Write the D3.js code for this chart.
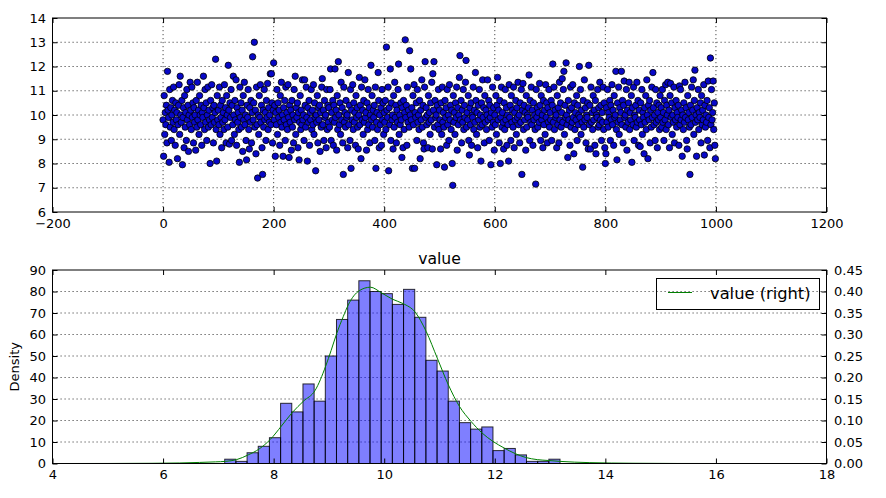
<!DOCTYPE html>
<html><head><meta charset="utf-8">
<script src="https://cdn.jsdelivr.net/npm/d3@7/dist/d3.min.js"></script>
<style>
body{margin:0;background:#fff}
svg{display:block}
text{font-family:"DejaVu Sans",sans-serif;fill:#000}
</style>
</head><body>
<svg id="chart" width="886" height="498"></svg>
<script>
// ---- scatter data: value by index (0..999), read in blocks of 100 ----
const seg0=[9.8,8.3,10.8,9.2,10.1,9.6,10.4,8.85,11.8,10.2,9.9,8.05,11.05,9.5,10.3,8.95,10.0,10.6,9.7,11.15,9.4,10.2,8.75,10.5,9.8,10.1,8.2,9.6,10.4,11.25,9.2,11.6,10.0,9.7,10.6,7.95,9.9,10.3,8.65,10.8,9.5,10.1,8.95,11.05,9.8,10.4,8.5,10.0,9.6,11.35,10.2,9.4,11.15,9.9,10.5,8.85,10.3,9.7,10.0,8.55,10.6,9.5,11.35,9.8,10.2,9.2,10.8,10.0,9.6,10.4,8.75,10.1,9.9,11.6,10.3,9.4,11.05,9.7,10.5,8.95,10.0,11.15,9.5,10.2,9.8,8.0,10.6,9.6,11.25,9.9,10.3,8.85,10.4,9.7,10.1,12.3,9.4,8.1,10.8,9.8];
const seg1=[10.2,9.6,11.15,9.2,10.4,9.9,8.65,10.6,9.7,10.1,9.4,11.25,9.8,10.3,8.85,10.8,10.0,9.5,12.05,10.2,8.8,10.5,9.9,11.05,8.95,10.4,9.6,11.6,10.0,9.2,10.6,9.8,11.45,8.75,10.3,9.7,10.1,9.4,8.05,11.15,9.9,10.5,9.5,10.2,8.5,10.8,9.8,11.35,9.6,10.0,8.95,8.15,10.4,9.9,11.05,9.4,8.6,10.3,9.7,10.6,8.85,10.1,12.4,9.8,10.5,13.0,9.5,10.2,8.4,11.15,9.6,7.4,10.0,9.2,10.8,9.9,11.25,9.7,10.4,8.65,7.55,10.2,9.5,11.05,9.8,10.1,8.95,10.6,9.9,11.3,9.4,10.3,9.7,10.0,11.7,9.6,11.7,10.5,8.85,10.2];
const seg2=[12.15,9.8,10.4,8.3,10.1,9.6,11.05,9.2,10.5,9.9,10.2,8.75,10.8,9.7,11.35,9.5,10.0,8.3,10.3,9.8,10.6,8.95,11.15,9.6,10.1,9.4,11.25,9.9,8.25,10.4,9.7,10.2,8.55,10.6,9.5,10.0,8.85,11.05,9.8,11.6,9.2,10.3,9.9,10.5,8.65,10.1,8.15,9.7,10.8,9.4,10.2,9.6,11.45,9.8,10.0,8.95,11.45,10.4,9.5,11.15,9.9,8.1,10.3,9.7,10.6,8.75,10.1,9.8,11.05,9.4,10.2,9.6,11.25,9.2,10.5,9.9,7.7,10.0,9.7,10.8,8.85,10.3,9.8,10.4,8.5,10.1,9.5,11.15,11.5,9.6,10.2,8.95,10.6,9.9,10.0,8.65,11.05,9.4,10.4,9.7];
const seg3=[10.3,9.5,11.05,11.9,8.95,10.1,9.8,10.6,8.75,10.4,9.7,11.9,9.9,10.2,8.55,10.8,9.4,12.2,10.0,9.6,10.5,9.2,11.35,9.8,10.3,8.85,7.55,11.15,9.7,10.1,9.5,10.6,9.9,10.0,8.65,11.75,9.6,10.4,8.95,11.05,7.8,10.2,9.8,11.25,9.4,10.5,9.7,10.1,8.75,10.8,9.9,10.3,9.5,8.6,10.0,11.55,9.6,10.4,8.2,11.15,9.8,10.2,9.2,10.6,9.7,11.45,9.9,10.1,8.55,10.5,9.4,11.05,9.6,10.3,8.85,10.0,12.05,9.8,10.8,9.5,10.2,9.9,10.4,8.95,11.15,7.8,9.7,10.1,9.4,11.75,10.6,8.65,10.0,9.6,10.3,8.75,11.05,9.8,10.5,9.2];
const seg4=[10.1,9.7,10.6,9.4,12.8,10.2,9.9,11.15,7.7,10.3,9.6,11.9,8.95,10.5,9.8,10.0,8.6,10.8,9.5,11.35,9.9,10.4,8.85,10.2,9.7,11.05,12.1,9.2,10.0,9.6,10.5,9.8,8.25,10.3,8.65,10.6,9.4,10.1,13.1,9.9,10.4,8.75,11.15,9.7,10.2,9.5,12.65,10.0,11.9,9.8,10.3,7.8,10.8,9.6,11.25,7.8,10.1,9.9,10.5,8.95,11.05,9.7,10.0,9.4,10.6,8.2,10.2,9.8,11.45,9.5,10.4,8.85,8.6,11.15,12.2,9.9,10.3,9.6,10.0,8.65,10.8,9.7,10.1,9.2,10.5,9.8,11.35,8.6,11.7,10.2,12.2,9.5,10.6,9.9,10.0,7.95,10.4,9.6,11.05,9.4];
const seg5=[10.2,9.8,8.6,10.5,9.2,11.15,9.7,10.1,9.5,7.85,10.6,9.9,10.3,8.75,11.05,9.6,10.0,8.95,11.25,9.8,10.4,9.4,10.2,8.0,7.1,10.8,9.7,10.1,9.2,10.5,9.9,11.15,8.55,10.3,9.6,10.0,11.55,12.45,9.8,10.6,8.85,10.2,9.7,11.05,9.4,10.4,9.9,11.35,12.25,9.5,10.1,9.8,10.8,8.95,8.35,10.3,9.6,10.5,8.75,10.0,9.9,11.15,9.4,10.2,9.7,11.75,10.6,9.2,10.1,8.65,10.4,9.8,11.05,9.5,10.0,8.1,10.5,9.6,11.45,9.9,10.3,8.85,10.8,9.7,10.2,9.4,10.0,11.45,9.8,10.6,8.95,10.4,9.9,7.95,10.1,9.5,11.15,9.7,10.3,8.55];
const seg6=[10.0,9.6,10.8,9.2,10.4,11.55,9.8,10.2,8.85,10.6,8.0,9.9,11.15,9.5,10.1,9.7,8.6,10.5,9.4,11.05,9.8,10.3,8.75,10.0,9.6,8.1,11.25,9.9,10.4,8.95,10.8,9.7,10.2,9.5,11.15,8.65,10.1,9.8,10.6,9.2,10.3,9.9,11.35,9.6,10.0,8.85,10.5,9.7,11.05,7.55,10.2,11.3,9.4,10.4,9.8,10.1,8.55,10.8,9.5,10.0,9.9,10.3,11.65,8.95,10.6,9.7,11.15,9.6,10.2,8.75,10.5,9.8,10.0,9.4,7.15,11.05,9.9,10.3,9.5,10.1,9.7,11.3,10.4,8.95,10.8,9.8,10.0,8.65,10.6,9.6,10.2,9.2,11.25,9.9,10.5,8.85,10.3,9.7,11.05,9.5];
const seg7=[10.1,9.8,10.6,8.95,10.4,12.1,9.7,11.15,9.4,10.2,9.9,10.0,8.65,10.8,9.6,10.3,8.85,11.35,9.8,10.5,9.5,10.1,11.5,9.7,11.05,11.8,9.2,10.4,9.9,12.15,10.0,9.6,8.25,10.6,9.8,10.2,8.75,11.15,9.5,10.3,9.7,11.25,9.9,8.4,10.5,9.4,10.1,9.8,10.8,8.95,10.4,9.6,10.0,12.0,9.9,11.05,9.2,10.2,9.7,7.85,10.6,9.5,11.45,9.8,10.3,8.85,10.0,9.9,10.5,8.6,12.05,9.6,10.4,8.6,11.15,9.7,10.1,9.4,10.8,9.8,10.2,8.75,10.6,8.4,10.0,9.9,11.05,9.5,10.3,9.6,11.35,9.8,10.4,8.95,10.1,9.7,11.15,9.4,10.5,8.65];
const seg8=[8.0,8.4,10.3,9.7,11.05,9.5,10.1,9.9,10.6,8.95,10.4,9.8,11.25,9.6,10.2,8.75,10.8,9.9,10.0,11.8,9.4,8.15,10.5,9.7,11.15,9.2,10.3,9.8,10.1,11.8,9.6,10.6,8.85,10.4,11.4,9.9,10.0,9.5,11.05,8.55,10.2,9.7,10.5,11.35,9.4,10.1,9.8,10.8,8.05,10.3,9.6,11.15,8.95,10.0,9.9,10.4,9.5,11.35,9.7,10.6,8.75,10.2,9.8,8.7,10.5,9.6,11.05,9.2,10.1,9.9,8.4,10.3,9.7,10.8,9.4,11.45,10.0,8.2,10.4,9.8,10.6,8.85,10.2,9.5,11.15,9.9,11.75,10.3,9.6,10.0,8.95,11.05,9.7,10.5,8.65,10.1,9.8,10.4,9.4,10.8];
const seg9=[9.9,10.3,9.5,11.05,9.7,10.1,8.95,10.6,9.8,11.25,9.4,10.4,10.0,11.35,9.6,10.2,8.65,10.8,11.3,9.9,10.5,9.2,10.0,9.7,11.15,8.85,10.3,9.8,10.6,9.5,10.1,9.9,10.4,8.75,11.2,9.6,11.05,9.8,10.2,8.3,10.0,9.4,10.5,9.7,11.35,9.9,10.3,8.95,8.6,10.8,9.8,10.1,9.5,7.55,10.4,9.6,11.15,9.9,10.2,11.45,9.2,10.6,11.85,9.7,10.0,8.3,10.3,9.8,11.05,9.4,10.1,9.9,10.5,8.85,10.8,9.6,10.2,9.8,11.25,8.35,10.4,9.5,10.0,9.7,10.6,8.95,11.4,9.9,10.3,8.65,12.35,9.6,11.05,9.8,10.1,11.4,9.4,10.5,8.75,8.2];

const scatterXTicks=[-200,0,200,400,600,800,1000,1200];
const scatterYTicks=[6,7,8,9,10,11,12,13,14];

// ---- histogram (30 bins between min and max of the values) ----
const histMin=7.115, histMax=13.18;
const histCounts=[2,1,5,8,12,28,24,37,29,50,67,76,85,80,79,74,81,68,48,43,29,19,16,17,6,7,4,1,1,2];

// ---- KDE curve (right axis) ----
const kdeX=[4.08,5.0,5.8,6.3,6.66,6.95,7.13,7.33,7.54,7.74,7.94,8.14,8.34,8.54,8.75,8.94,9.04,9.14,9.26,9.35,9.55,9.75,9.95,10.15,10.34,10.56,10.76,10.96,11.16,11.36,11.57,11.77,11.96,12.17,12.37,12.56,12.77,12.97,13.17,13.72,14.5,15.3,16.21];
const kdeY=[0.0,0.0001,0.0005,0.0012,0.0025,0.0038,0.005,0.009,0.020,0.034,0.056,0.087,0.119,0.145,0.170,0.226,0.263,0.302,0.342,0.369,0.402,0.410,0.397,0.382,0.372,0.352,0.307,0.245,0.183,0.133,0.098,0.071,0.052,0.036,0.023,0.014,0.009,0.007,0.005,0.002,0.0006,0.0001,0.0];

const histXTicks=[4,6,8,10,12,14,16,18];
const histYTicks=[0,10,20,30,40,50,60,70,80,90];
const kdeTicks=[0,0.05,0.10,0.15,0.20,0.25,0.30,0.35,0.40,0.45];

const seriesName="value";
const legendLabel="value (right)";
const yLabel="Density";

// ================= drawing =================
const values=[].concat(seg0,seg1,seg2,seg3,seg4,seg5,seg6,seg7,seg8,seg9);
const svg=d3.select("#chart");
const L=52.5, R=826.5;
const FS=13;
const gridDash="1.2,2.8";

function frame(g,top,bottom){
  g.append("rect").attr("x",L).attr("y",top).attr("width",R-L).attr("height",bottom-top)
    .attr("fill","none").attr("stroke","#000").attr("stroke-width",1);
}
function styleAxis(sel){
  sel.select(".domain").remove();
  sel.selectAll(".tick line").attr("stroke","#000").attr("stroke-width",1);
  sel.selectAll(".tick text").attr("font-size",FS).attr("font-family","DejaVu Sans");
}

// ---------- top scatter ----------
{
  const top=18, bottom=212;
  const x=d3.scaleLinear().domain([-200,1200]).range([L,R]);
  const y=d3.scaleLinear().domain([6,14]).range([bottom,top]);
  const g=svg.append("g");
  g.append("g").selectAll("line").data(scatterXTicks.slice(1,-1)).join("line")
    .attr("x1",d=>x(d)).attr("x2",d=>x(d)).attr("y1",top).attr("y2",bottom)
    .attr("stroke","#000").attr("stroke-width",0.7).attr("stroke-dasharray",gridDash);
  g.append("g").selectAll("line").data(scatterYTicks.slice(1,-1)).join("line")
    .attr("y1",d=>y(d)).attr("y2",d=>y(d)).attr("x1",L).attr("x2",R)
    .attr("stroke","#000").attr("stroke-width",0.7).attr("stroke-dasharray",gridDash);
  g.append("g").selectAll("circle").data(values).join("circle")
    .attr("cx",(d,i)=>x(i)).attr("cy",d=>y(d)).attr("r",3.2)
    .attr("fill","#0808c8").attr("stroke","#000").attr("stroke-width",0.8);
  g.append("g").attr("transform",`translate(0,${bottom})`)
    .call(d3.axisBottom(x).tickValues(scatterXTicks).tickSize(-5).tickPadding(6.5).tickFormat(d3.format("d"))).call(styleAxis);
  g.append("g").attr("transform",`translate(0,${top})`)
    .call(d3.axisTop(x).tickValues(scatterXTicks).tickSize(-5).tickFormat("")).call(styleAxis);
  g.append("g").attr("transform",`translate(${L},0)`)
    .call(d3.axisLeft(y).tickValues(scatterYTicks).tickSize(-5).tickPadding(6.5).tickFormat(d3.format("d"))).call(styleAxis);
  g.append("g").attr("transform",`translate(${R},0)`)
    .call(d3.axisRight(y).tickValues(scatterYTicks).tickSize(-5).tickFormat("")).call(styleAxis);
  frame(g,top,bottom);
}

// ---------- bottom histogram + kde ----------
{
  const top=270, bottom=463.5;
  const x=d3.scaleLinear().domain([4,18]).range([L,R]);
  const yL=d3.scaleLinear().domain([0,90]).range([bottom,top]);
  const yR=d3.scaleLinear().domain([0,0.45]).range([bottom,top]);
  const g=svg.append("g");
  g.append("g").selectAll("line").data(histYTicks.slice(1,-1)).join("line")
    .attr("y1",d=>yL(d)).attr("y2",d=>yL(d)).attr("x1",L).attr("x2",R)
    .attr("stroke","#000").attr("stroke-width",0.7).attr("stroke-dasharray",gridDash);
  const edges=d3.range(histCounts.length+1).map(i=>histMin+(histMax-histMin)*i/histCounts.length);
  g.append("g").selectAll("rect").data(histCounts).join("rect")
    .attr("x",(d,i)=>x(edges[i])).attr("width",(d,i)=>x(edges[i+1])-x(edges[i]))
    .attr("y",d=>yL(d)).attr("height",d=>bottom-yL(d))
    .attr("fill","#0000ff").attr("fill-opacity",0.5)
    .attr("stroke","#000").attr("stroke-opacity",0.8).attr("stroke-width",1);
  const line=d3.line().x((d,i)=>x(kdeX[i])).y(d=>yR(d)).curve(d3.curveMonotoneX);
  g.append("path").attr("d",line(kdeY)).attr("fill","none").attr("stroke","#008000").attr("stroke-width",1);
  g.append("g").attr("transform",`translate(0,${bottom})`)
    .call(d3.axisBottom(x).tickValues(histXTicks).tickSize(-5).tickPadding(6.5).tickFormat(d3.format("d"))).call(styleAxis);
  g.append("g").attr("transform",`translate(0,${top})`)
    .call(d3.axisTop(x).tickValues(histXTicks).tickSize(-5).tickFormat("")).call(styleAxis);
  g.append("g").attr("transform",`translate(${L},0)`)
    .call(d3.axisLeft(yL).tickValues(histYTicks).tickSize(-5).tickPadding(6.5).tickFormat(d3.format("d"))).call(styleAxis);
  g.append("g").attr("transform",`translate(${R},0)`)
    .call(d3.axisRight(yR).tickValues(kdeTicks).tickSize(-5).tickPadding(7.5).tickFormat(d3.format(".2f"))).call(styleAxis);
  frame(g,top,bottom);
  g.append("text").attr("x",(L+R)/2).attr("y",263.5).attr("text-anchor","middle")
    .attr("font-size",15.6).text(seriesName);
  g.append("text").attr("transform",`translate(18.5,${(top+bottom)/2}) rotate(-90)`)
    .attr("text-anchor","middle").attr("font-size",FS).text(yLabel);
  const lg=g.append("g");
  lg.append("rect").attr("x",656.5).attr("y",278.5).attr("width",163).attr("height",31)
    .attr("fill","none").attr("stroke","#000").attr("stroke-width",1);
  lg.append("line").attr("x1",668).attr("x2",692).attr("y1",292.5).attr("y2",292.5)
    .attr("stroke","#008000").attr("stroke-width",1);
  lg.append("text").attr("x",710).attr("y",298.5).attr("font-size",16.3).text(legendLabel);
}
</script>
</body></html>
